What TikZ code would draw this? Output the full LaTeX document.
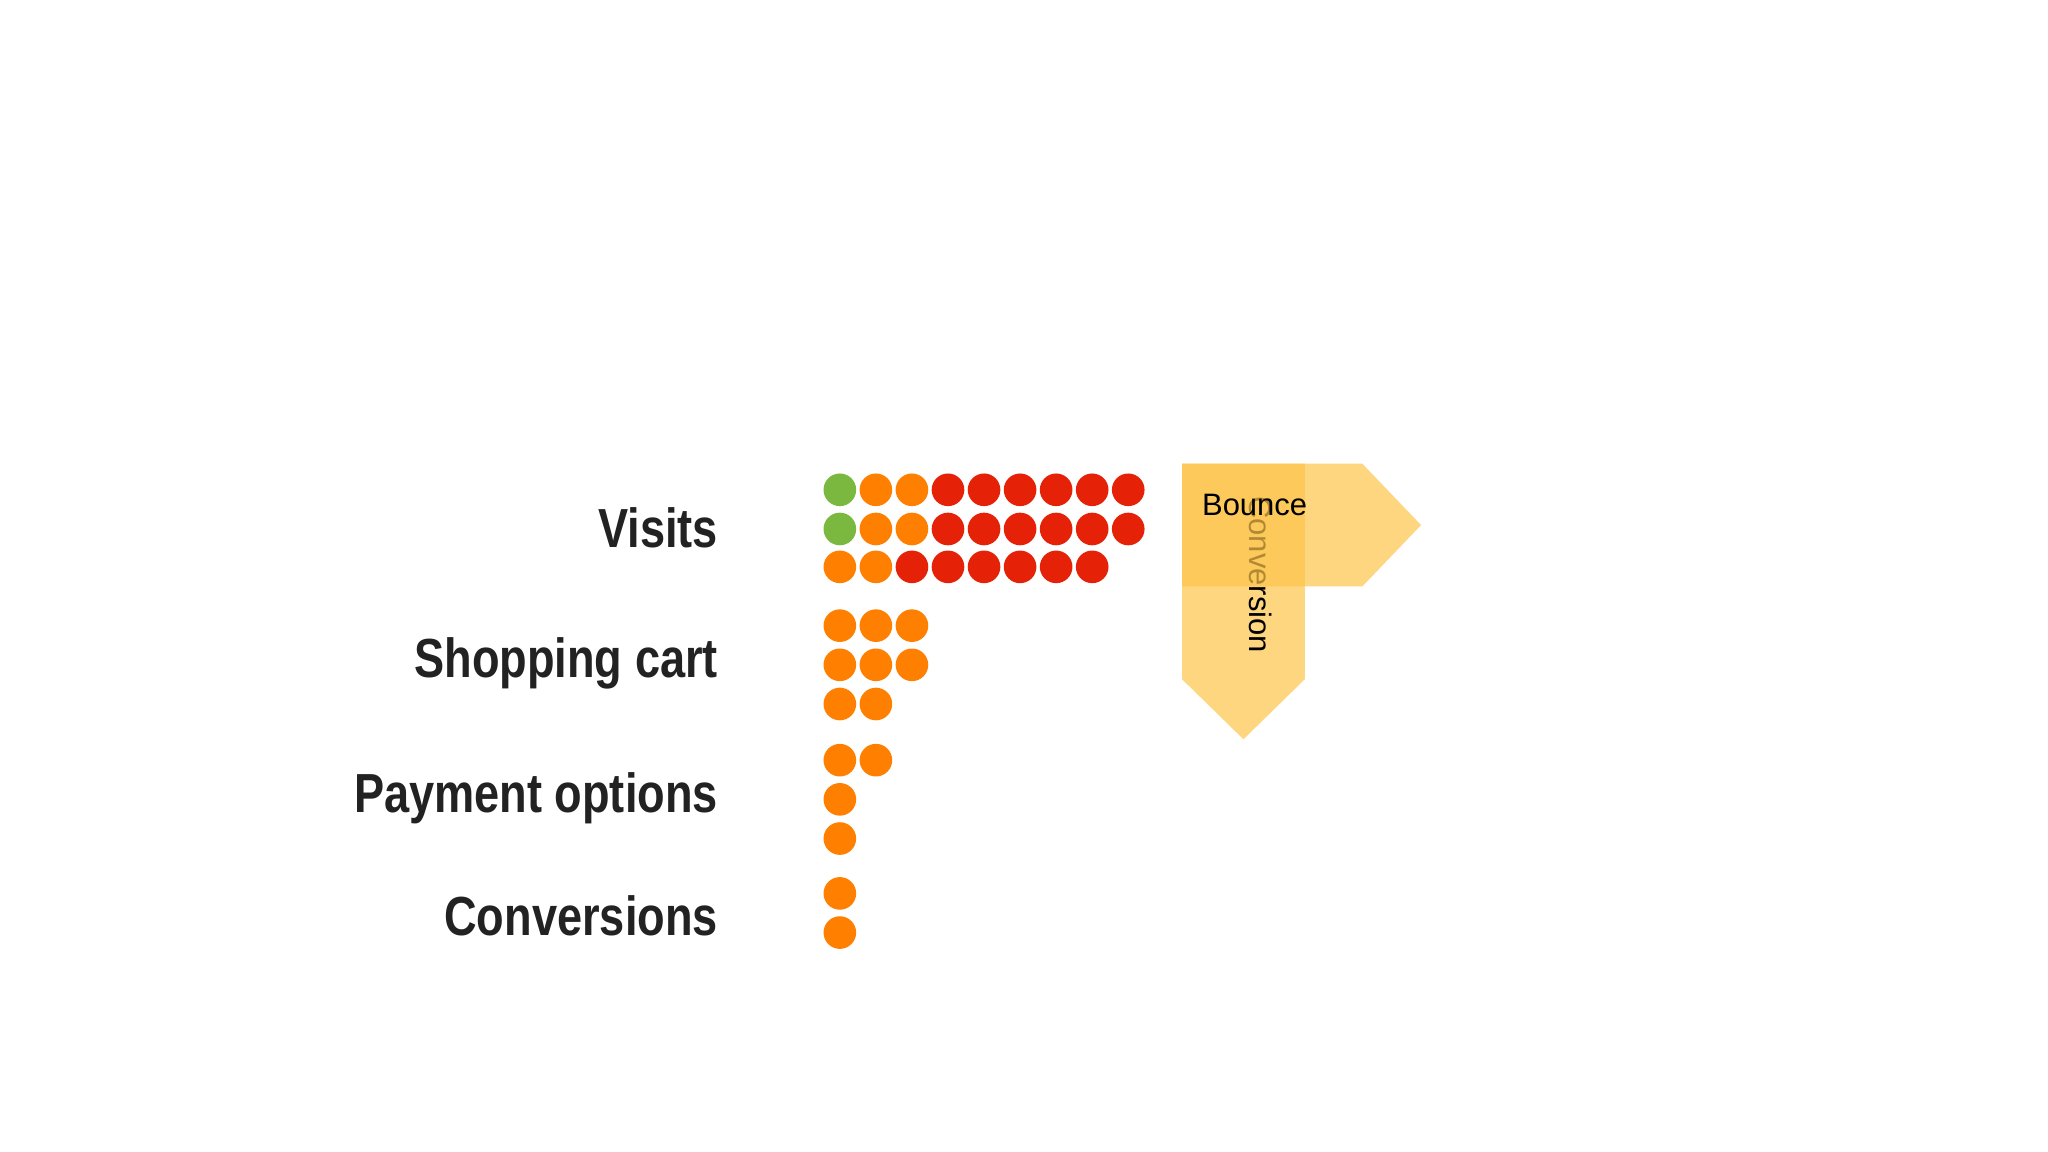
\documentclass[tikz,border=0pt]{standalone}
\usepackage{fontspec}
\setmainfont{Liberation Sans}
\definecolor{dgreen}{HTML}{7AB840}
\definecolor{dorange}{HTML}{FF7F00}
\definecolor{dred}{HTML}{E52208}
\definecolor{ayel}{HTML}{FDC44A}
\definecolor{lbl}{HTML}{222222}
\begin{document}
\begin{tikzpicture}[x=0.02cm,y=-0.02cm,
  dot/.style={circle,fill=#1,minimum size=0.5cm,inner sep=0pt},
  lab/.style={anchor=east,font=\bfseries\fontsize{24}{24}\selectfont,text=lbl,inner sep=0pt},
  arr/.style={fill=ayel,fill opacity=0.7,draw=none}]
\useasboundingbox (0,0) rectangle (1568,882);
% Visits
\foreach \r/\y in {1/375,2/405}{
  \foreach \c in {1,...,9}{
    \pgfmathsetmacro\xx{643+(\c-1)*27.6}
    \ifnum\c=1 \def\col{dgreen}\else\ifnum\c<4 \def\col{dorange}\else\def\col{dred}\fi\fi
    \node[dot=\col] (v\r\c) at (\xx,\y) {};
  }}
\foreach \c in {1,...,8}{
  \pgfmathsetmacro\xx{643+(\c-1)*27.6}
  \ifnum\c<3 \def\col{dorange}\else\def\col{dred}\fi
  \node[dot=\col] (v3\c) at (\xx,434) {};
}
% Shopping cart
\foreach \n/\x/\y in {s11/643/479,s12/670.6/479,s13/698.2/479,s21/643/509,s22/670.6/509,s23/698.2/509,s31/643/539,s32/670.6/539,
  p11/643/582,p12/670.6/582,p21/643/612,p31/643/642,c11/643/684,c21/643/714}
  \node[dot=dorange] (\n) at (\x,\y) {};
\node[lab] (lv) at (550,404) {\scalebox{0.82}[1]{Visits}};
\node[lab] (ls) at (550,508) {\scalebox{0.82}[1]{Shopping cart}};
\node[lab] (lp) at (550,611) {\scalebox{0.82}[1]{Payment options}};
\node[lab] (lc) at (550,701) {\scalebox{0.82}[1]{Conversions}};
% arrows
\fill[arr] (905,355) -- (999,355) -- (999,520) -- (952,566) -- (905,520) -- cycle;
\node[rotate=-90,font=\fontsize{13.5}{14}\selectfont,inner sep=0pt] (tc) at (965,440) {Conversion};
\fill[arr] (905,355) -- (1043,355) -- (1088,402) -- (1043,449) -- (905,449) -- cycle;
\node[anchor=west,font=\fontsize{13.5}{14}\selectfont,inner sep=0pt] (tb) at (920,387) {Bounce};
\end{tikzpicture}
\end{document}
